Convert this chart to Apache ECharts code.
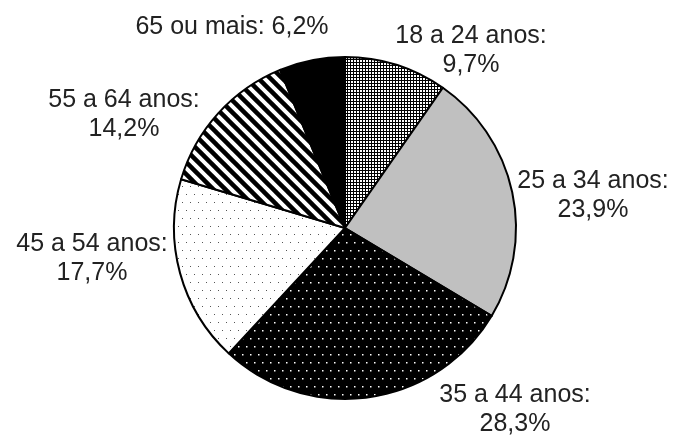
<!DOCTYPE html>
<html><head><meta charset="utf-8">
<script src="https://cdn.jsdelivr.net/npm/echarts@6/dist/echarts.min.js"></script>
<style>html,body{margin:0;padding:0;background:#fff}#c{width:676px;height:439px}</style>
</head><body><div id="c"></div>
<script>
const categories = ['18 a 24 anos', '25 a 34 anos', '35 a 44 anos', '45 a 54 anos', '55 a 64 anos', '65 ou mais'];
const values = [9.7, 23.9, 28.3, 17.7, 14.2, 6.2];
const valueLabels = ['9,7%', '23,9%', '28,3%', '17,7%', '14,2%', '6,2%'];
// label anchor positions (px) – layout only
const labelPos = [[471, 51], [593, 196], [515, 410], [92, 259], [124, 115], [232, 27]];

function tile(w, h, draw) {
  const c = document.createElement('canvas'); c.width = w; c.height = h;
  const g = c.getContext('2d'); draw(g, w, h); return c;
}
const checker = tile(3, 3, (g) => {
  g.fillStyle = '#000'; g.fillRect(0, 0, 3, 3);
  g.fillStyle = '#fff'; g.fillRect(0, 0, 2, 2);
});
const stripes = tile(12, 12, (g) => {
  g.fillStyle = '#fff'; g.fillRect(0, 0, 12, 12);
  g.strokeStyle = '#000'; g.lineWidth = 4.5;
  for (let o = -12; o <= 12; o += 12) { g.beginPath(); g.moveTo(o - 3, -3); g.lineTo(o + 15, 15); g.stroke(); }
});
const blackDots = tile(8, 16, (g) => {
  g.fillStyle = '#000'; g.fillRect(0, 0, 8, 16);
  g.fillStyle = '#fff'; g.fillRect(2, 2, 1.5, 1.5); g.fillRect(6, 10, 1.5, 1.5);
});
const grayDots = tile(8, 16, (g) => {
  g.fillStyle = '#fff'; g.fillRect(0, 0, 8, 16);
  g.fillStyle = '#555'; g.fillRect(2, 2, 1, 1); g.fillRect(6, 10, 1, 1);
});
const fills = [
  { image: checker, repeat: 'repeat' },
  '#c0c0c0',
  { image: blackDots, repeat: 'repeat' },
  { image: grayDots, repeat: 'repeat' },
  { image: stripes, repeat: 'repeat' },
  '#000'
];

const data = categories.map((n, i) => ({
  name: n, value: values[i],
  itemStyle: { color: fills[i] },
  label: { formatter: i === 5 ? n + ': ' + valueLabels[i] : n + ':\n' + valueLabels[i] }
}));

const chart = echarts.init(document.getElementById('c'), null, { renderer: 'canvas' });
chart.setOption({
  animation: false,
  backgroundColor: '#fff',
  series: [{
    type: 'pie',
    center: [345, 228],
    radius: 171,
    startAngle: 90,
    clockwise: true,
    avoidLabelOverlap: false,
    data: data,
    itemStyle: { borderColor: '#000', borderWidth: 2 },
    emphasis: { disabled: true },
    label: {
      show: true, position: 'outside', color: '#222',
      fontFamily: 'Liberation Sans, Arial, sans-serif', fontSize: 25, lineHeight: 29, align: 'center'
    },
    labelLine: { show: false },
    labelLayout: (p) => ({ x: labelPos[p.dataIndex][0], y: labelPos[p.dataIndex][1], align: 'center', verticalAlign: 'middle' })
  }]
});
</script></body></html>
